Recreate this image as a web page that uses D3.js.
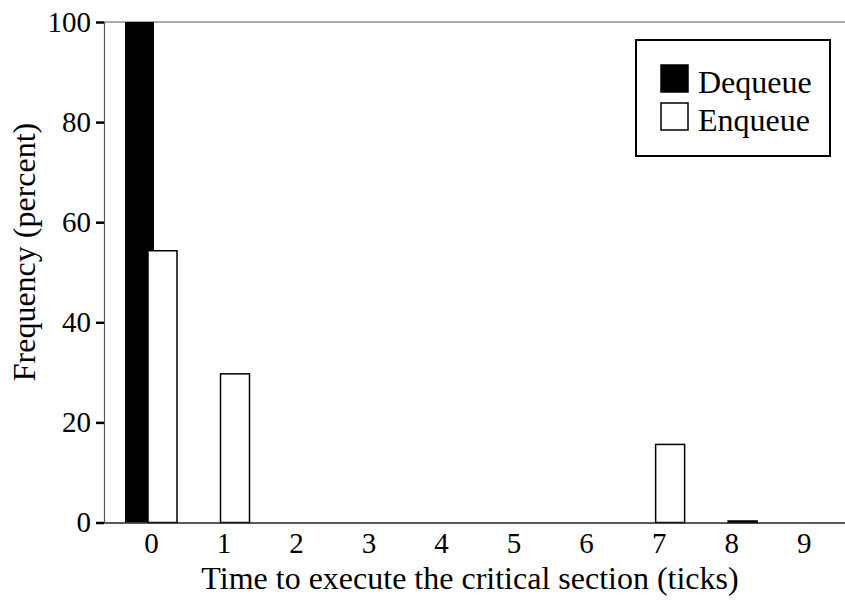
<!DOCTYPE html>
<html>
<head>
<meta charset="utf-8">
<script src="https://cdn.jsdelivr.net/npm/d3@7"></script>
<style>
  body { margin: 0; background: #fff; }
  text { font-family: "Liberation Serif", "Times New Roman", serif; }
</style>
</head>
<body>
<div id="chart"></div>
<script>
// Data
const ticks = [0, 1, 2, 3, 4, 5, 6, 7, 8, 9];
const dequeue = [100, 0, 0, 0, 0, 0, 0, 0, 0, 0];
const enqueue = [54.3, 29.7, 0, 0, 0, 0, 0, 15.6, 0.3, 0];
const yTicks = [0, 20, 40, 60, 80, 100];
const seriesNames = ["Dequeue", "Enqueue"];

const W = 845, H = 601;
const margin = { top: 22, right: 0, bottom: 78.5, left: 104 },
      width = W - margin.left - margin.right,
      height = H - margin.top - margin.bottom;

const svg = d3.select("#chart").append("svg")
    .attr("width", W)
    .attr("height", H);

const g = svg.append("g")
    .attr("transform", `translate(${margin.left},${margin.top})`);

const x = d3.scaleLinear()
    .domain([-0.648, 9.57])
    .range([0, width]);

const y = d3.scaleLinear()
    .domain([0, 100])
    .range([height, 0]);

const barW = 29;
const offset = 11.5;

// top frame line
g.append("line")
    .attr("x1", 0).attr("x2", width)
    .attr("y1", 0).attr("y2", 0)
    .attr("stroke", "#555").attr("stroke-width", 1);

// Dequeue bars (black)
g.selectAll(".deq")
    .data(ticks.filter((d, i) => dequeue[i] > 0))
    .enter()
    .append("rect")
    .attr("class", "deq")
    .attr("x", d => x(d) - offset - barW / 2)
    .attr("y", d => y(dequeue[d]))
    .attr("width", barW)
    .attr("height", d => height - y(dequeue[d]))
    .attr("fill", "#000");

// Enqueue bars (white, outlined)
g.selectAll(".enq")
    .data(ticks.filter((d, i) => enqueue[i] > 0))
    .enter()
    .append("rect")
    .attr("class", "enq")
    .attr("x", d => x(d) + offset - barW / 2)
    .attr("y", d => y(enqueue[d]))
    .attr("width", barW)
    .attr("height", d => height - y(enqueue[d]))
    .attr("fill", "#fff")
    .attr("stroke", "#000")
    .attr("stroke-width", 1.5);

// Y axis
const yAxis = g.append("g")
    .call(d3.axisLeft(y).tickValues(yTicks).tickSize(8).tickPadding(5));
yAxis.select(".domain").attr("stroke", "#555").attr("stroke-width", 1.2);
yAxis.selectAll(".tick line").attr("stroke", "#000").attr("stroke-width", 2.5);
yAxis.selectAll(".tick text")
    .attr("font-size", 29)
    .attr("font-family", "Liberation Serif")
    .attr("fill", "#000");

// X axis
const xAxis = g.append("g")
    .attr("transform", `translate(0,${height})`)
    .call(d3.axisBottom(x).tickValues(ticks).tickSize(0).tickPadding(10));
xAxis.select(".domain").attr("stroke", "#222").attr("stroke-width", 1.5);
xAxis.selectAll(".tick text")
    .attr("font-size", 29)
    .attr("font-family", "Liberation Serif")
    .attr("fill", "#000");

// Axis titles
svg.append("text")
    .attr("x", 470)
    .attr("y", 589)
    .attr("text-anchor", "middle")
    .attr("font-size", 32)
    .text("Time to execute the critical section (ticks)");

svg.append("text")
    .attr("transform", "translate(35,252) rotate(-90)")
    .attr("text-anchor", "middle")
    .attr("font-size", 32)
    .text("Frequency (percent)");

// Legend
const legend = svg.append("g").attr("transform", "translate(636,40)");
legend.append("rect")
    .attr("width", 194).attr("height", 116)
    .attr("fill", "#fff").attr("stroke", "#000").attr("stroke-width", 2);

const items = legend.selectAll(".item")
    .data(seriesNames)
    .enter()
    .append("g")
    .attr("transform", (d, i) => `translate(25,${25 + i * 38})`);

items.append("rect")
    .attr("width", 27).attr("height", 27)
    .attr("fill", (d, i) => i === 0 ? "#000" : "#fff")
    .attr("stroke", "#000").attr("stroke-width", 1.5);

items.append("text")
    .attr("x", 37)
    .attr("y", 27.5)
    .attr("font-size", 32)
    .text(d => d);
</script>
</body>
</html>
